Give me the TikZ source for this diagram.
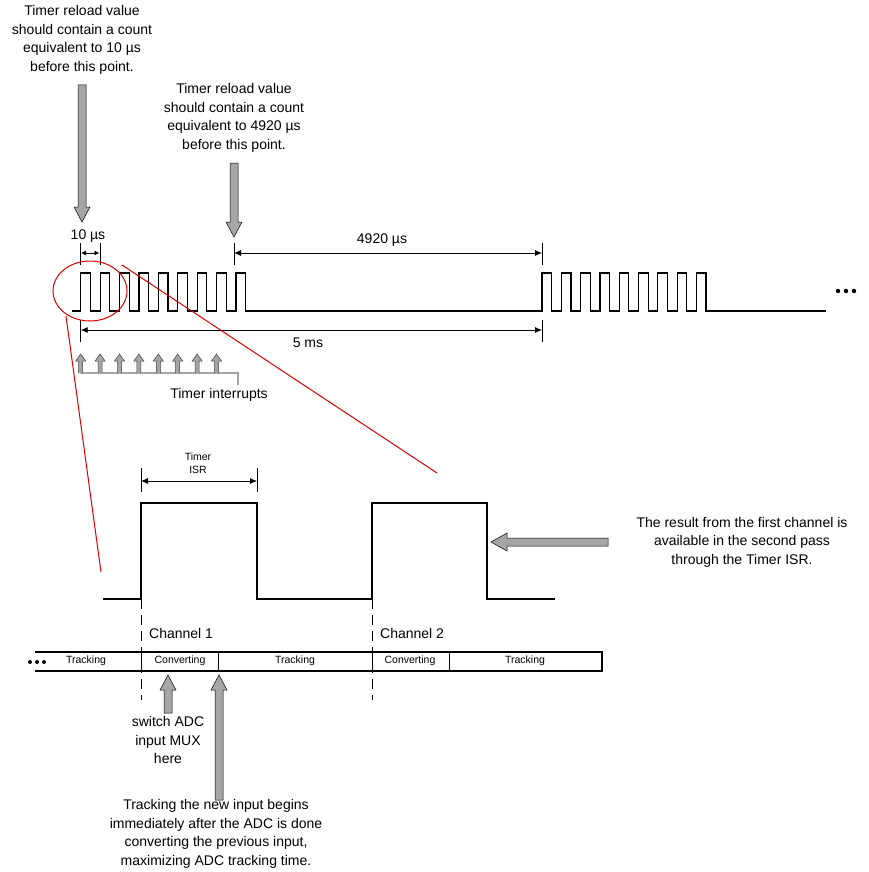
\documentclass[tikz,border=0pt]{standalone}
\usepackage{fontspec}
\setmainfont{Liberation Sans}
\usetikzlibrary{arrows.meta}
\begin{document}
\begin{tikzpicture}[x=1pt,y=-1pt,
  sig/.style={line width=1.2pt,line join=miter},
  dim/.style={line width=0.8pt,{Latex[length=7pt,width=6pt]}-{Latex[length=7pt,width=6pt]}},
  tick/.style={line width=0.8pt},
  txt/.style={font=\fontsize{14}{18.5}\selectfont,align=center,inner sep=0pt},
  sm/.style={font=\fontsize{10.5}{12.5}\selectfont,align=center,inner sep=0pt},
  gr/.style={fill=gray!70,draw=black,line width=0.5pt},
  red/.style={draw=red!85!black,line width=1pt}]
\useasboundingbox (0,0) rectangle (868,872);
\newcommand{\gdown}[3]{\path[gr] (#1-4,#2)--(#1+4,#2)--(#1+4,#3-15)--(#1+8,#3-15)--(#1,#3)--(#1-8,#3-15)--(#1-4,#3-15)--cycle;}
\newcommand{\gup}[3]{\path[gr] (#1-4,#2)--(#1+4,#2)--(#1+4,#3+15)--(#1+8,#3+15)--(#1,#3)--(#1-8,#3+15)--(#1-4,#3+15)--cycle;}
% texts top
\node[txt] (t1) at (82,40) {Timer reload value\\should contain a count\\equivalent to 10 µs\\before this point.};
\node[txt] (t2) at (234,118) {Timer reload value\\should contain a count\\equivalent to 4920 µs\\before this point.};
\gdown{82}{85}{222}
\gdown{234}{163}{237}
% pulse trains
\draw[sig] (72,311)
  \foreach \i in {0,...,8}{ -- ({80.7+19.4*\i},311) -- ({80.7+19.4*\i},273) -- ({90.4+19.4*\i},273) -- ({90.4+19.4*\i},311)}
  -- (542,311)
  \foreach \i in {0,...,8}{ -- ({542+19.3*\i},311) -- ({542+19.3*\i},273) -- ({551.6+19.3*\i},273) -- ({551.6+19.3*\i},311)}
  -- (826,311);
\foreach \i in {0,1,2} \fill (838+8*\i,291) circle (2.2);
% dimensions
\draw[tick] (80.7,243)--(80.7,265) (100,243)--(100,265) (234,243)--(234,265) (542,243)--(542,265) (80.7,320)--(80.7,342) (542,320)--(542,342);
\draw[line width=0.8pt,-{Latex[length=5pt,width=5pt]}] (90,253)--(81,253);
\draw[line width=0.8pt,-{Latex[length=5pt,width=5pt]}] (90,253)--(99.5,253);
\node[txt] (l10) at (88,236) {10 µs};
\draw[dim] (234,253)--(542,253);
\node[txt] (l4920) at (382,240) {4920 µs};
\draw[dim] (80.7,330)--(542,330);
\node[txt] (l5) at (308,343) {5 ms};
% timer interrupts
\draw[gray!60!black,line width=2.4pt] (80.7,362)--(80.7,373)--(238,373)--(238,385);
\draw[gray!70,line width=1.2pt] (80.7,362)--(80.7,373)--(238,373)--(238,385);
\foreach \i in {0,...,7}{
  \path[fill=gray!70,draw=gray!50!black,line width=0.5pt] ({80.7+19.4*\i-2},373)--({80.7+19.4*\i-2},361)--({80.7+19.4*\i-5},361)--({80.7+19.4*\i},354)--({80.7+19.4*\i+5},361)--({80.7+19.4*\i+2},361)--({80.7+19.4*\i+2},373);}
\node[txt] (lti) at (219,395) {Timer interrupts};
% red zoom
\draw[red] (90,291) ellipse (37 and 30);
\draw[red] (66,316)--(101,572);
\draw[red] (122,265)--(437,473);
% bottom signal
\draw[tick] (141,468)--(141,492) (257,468)--(257,492);
\draw[dim] (141,481)--(257,481);
\node[sm] (isr) at (198,463) {Timer\\ISR};
\draw[sig] (103,599)--(141,599)--(141,503)--(257,503)--(257,599)--(372,599)--(372,503)--(487,503)--(487,599)--(555,599);
\draw[line width=1pt,dash pattern=on 10pt off 6pt] (141,599)--(141,700) (372,599)--(372,700);
\node[txt,anchor=west] (c1) at (149,633) {Channel 1};
\node[txt,anchor=west] (c2) at (380,633) {Channel 2};
\fill[white] (138,652) rectangle (144,671) (369,652) rectangle (375,671);
\draw[line width=1.2pt] (35,652)--(602,652)--(602,671)--(35,671);
\draw[line width=1pt] (141,652)--(141,671) (218,652)--(218,671) (372,652)--(372,671) (449,652)--(449,671);
\foreach \i in {0,1,2} \fill (30+7*\i,662) circle (2);
\node[sm] (k1) at (86,661) {Tracking};
\node[sm] (k2) at (180,661) {Converting};
\node[sm] (k3) at (295,661) {Tracking};
\node[sm] (k4) at (410,661) {Converting};
\node[sm] (k5) at (525,661) {Tracking};
\gup{168}{713}{675}
\gup{219}{800}{675}
\node[txt] (sw) at (168,740) {switch ADC\\input MUX\\here};
\node[txt] (tr) at (216,834) {Tracking the new input begins\\immediately after the ADC is done\\converting the previous input,\\maximizing ADC tracking time.};
% right arrow
\path[gr] (608,538)--(608,546)--(507,546)--(507,551)--(491,542)--(507,533)--(507,538)--cycle;
\node[txt] (res) at (742,542) {The result from the first channel is\\available in the second pass\\through the Timer ISR.};
\end{tikzpicture}
\end{document}
